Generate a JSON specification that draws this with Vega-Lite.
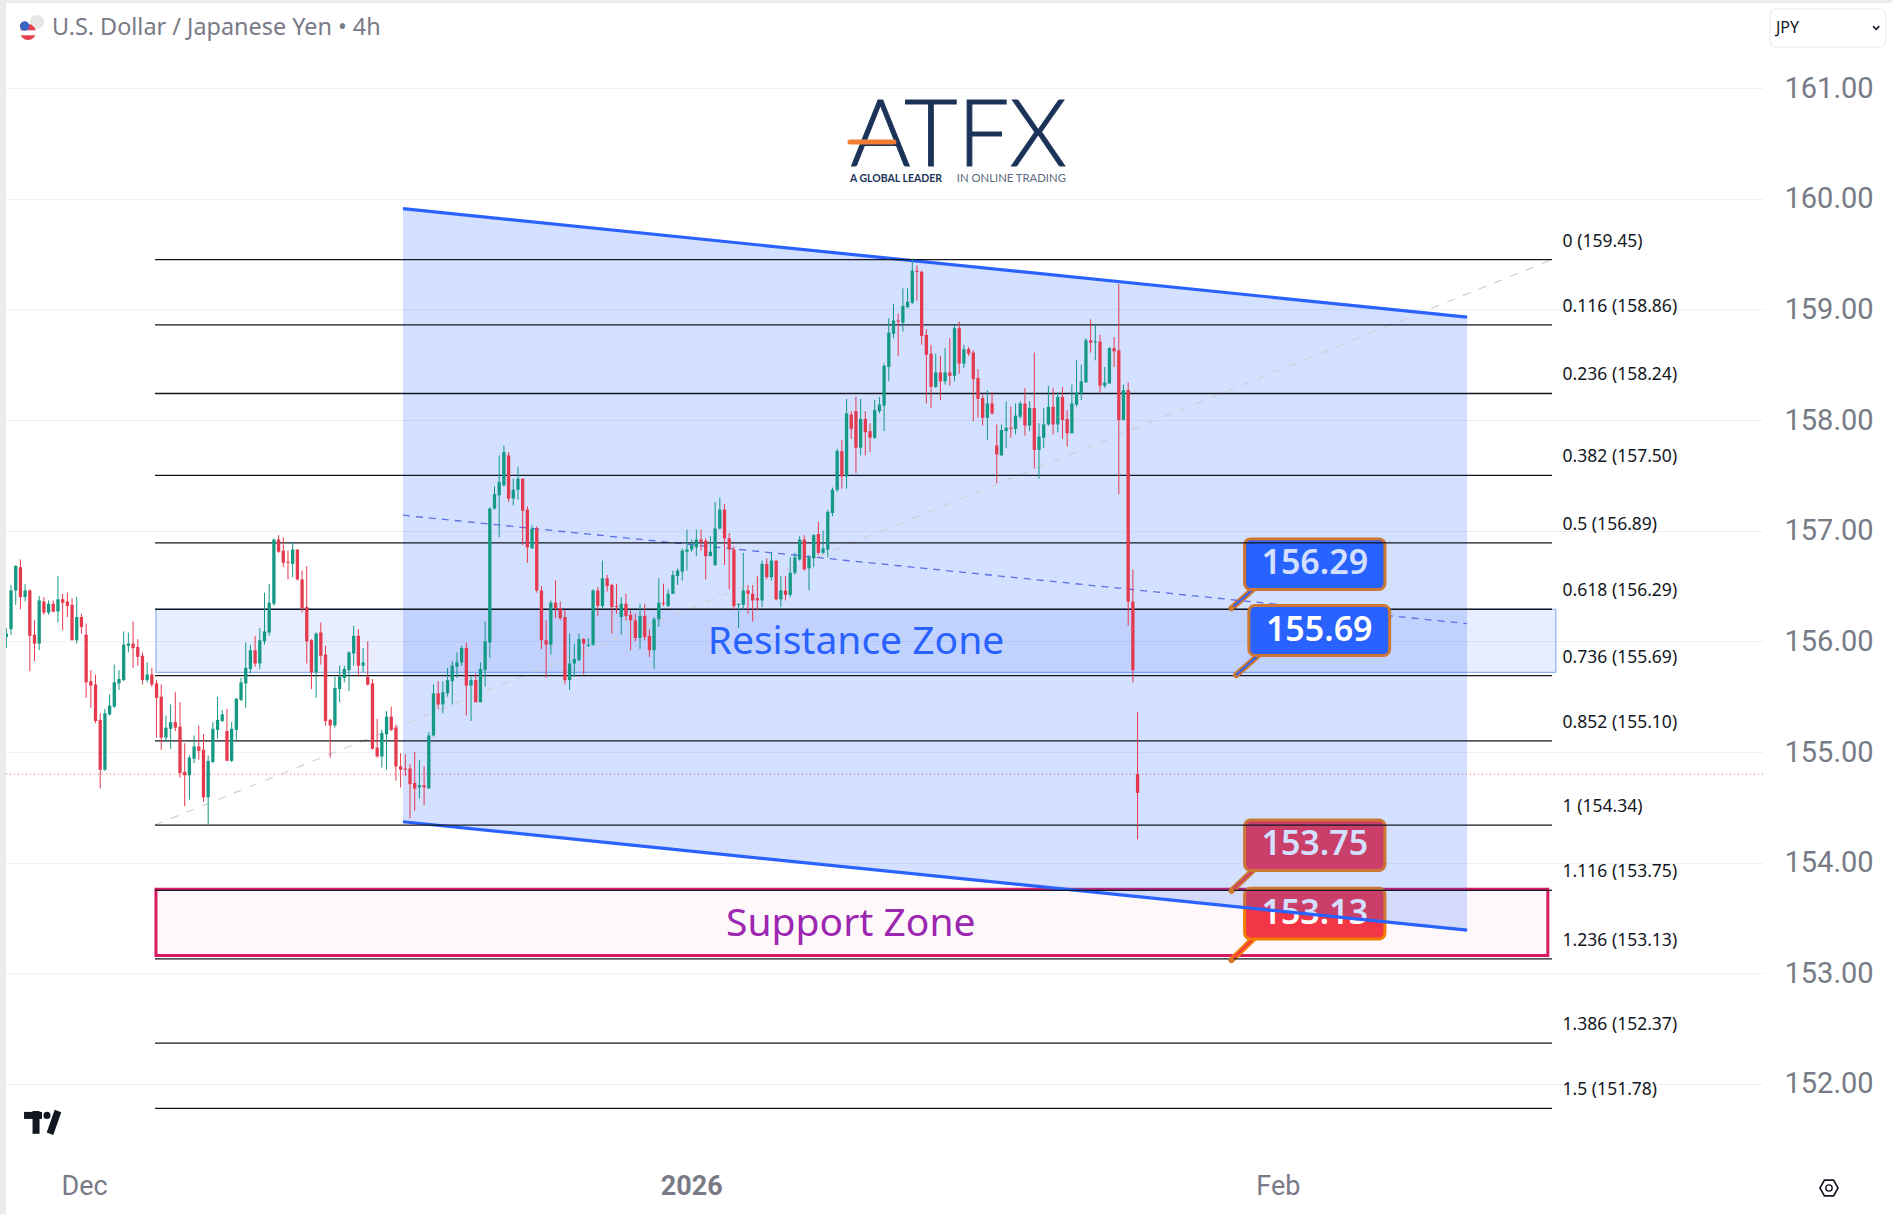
{
  "$schema": "https://vega.github.io/schema/vega-lite/v6.json",
  "description": "USD/JPY 4h candles with channel, fib levels and zones",
  "width": 1763,
  "height": 1160,
  "autosize": "none",
  "padding": {"left": 0, "top": 0, "right": 129, "bottom": 55},
  "background": "#ffffff",
  "config": {"view": {"stroke": null}, "axis": {"title": null}},
  "datasets": {
    "candles": [
      {"bar":0,"open":156.04,"high":156.12,"low":155.94,"close":156.07},
      {"bar":1,"open":156.11,"high":156.51,"low":156.06,"close":156.46},
      {"bar":2,"open":156.46,"high":156.69,"low":156.33,"close":156.68},
      {"bar":3,"open":156.67,"high":156.74,"low":156.29,"close":156.40},
      {"bar":4,"open":156.40,"high":156.52,"low":156.36,"close":156.46},
      {"bar":5,"open":156.46,"high":156.47,"low":155.73,"close":156.05},
      {"bar":6,"open":156.06,"high":156.19,"low":155.82,"close":155.98},
      {"bar":7,"open":155.98,"high":156.41,"low":155.92,"close":156.37},
      {"bar":8,"open":156.36,"high":156.40,"low":156.24,"close":156.26},
      {"bar":9,"open":156.26,"high":156.37,"low":156.24,"close":156.34},
      {"bar":10,"open":156.34,"high":156.37,"low":156.26,"close":156.27},
      {"bar":11,"open":156.27,"high":156.59,"low":156.17,"close":156.38},
      {"bar":12,"open":156.38,"high":156.43,"low":156.10,"close":156.35},
      {"bar":13,"open":156.36,"high":156.44,"low":156.22,"close":156.32},
      {"bar":14,"open":156.33,"high":156.39,"low":156.01,"close":156.01},
      {"bar":15,"open":156.01,"high":156.40,"low":155.98,"close":156.22},
      {"bar":16,"open":156.22,"high":156.25,"low":156.07,"close":156.13},
      {"bar":17,"open":156.06,"high":156.16,"low":155.49,"close":155.63},
      {"bar":18,"open":155.64,"high":155.74,"low":155.40,"close":155.60},
      {"bar":19,"open":155.61,"high":155.70,"low":155.26,"close":155.28},
      {"bar":20,"open":155.29,"high":155.35,"low":154.67,"close":154.84},
      {"bar":21,"open":154.84,"high":155.39,"low":154.83,"close":155.35},
      {"bar":22,"open":155.34,"high":155.52,"low":155.33,"close":155.42},
      {"bar":23,"open":155.41,"high":155.79,"low":155.40,"close":155.63},
      {"bar":24,"open":155.62,"high":155.74,"low":155.56,"close":155.66},
      {"bar":25,"open":155.65,"high":156.09,"low":155.64,"close":155.97},
      {"bar":26,"open":155.96,"high":156.08,"low":155.90,"close":155.98},
      {"bar":27,"open":155.98,"high":156.18,"low":155.76,"close":155.94},
      {"bar":28,"open":155.95,"high":156.02,"low":155.78,"close":155.86},
      {"bar":29,"open":155.87,"high":155.90,"low":155.61,"close":155.65},
      {"bar":30,"open":155.65,"high":155.81,"low":155.63,"close":155.70},
      {"bar":31,"open":155.70,"high":155.76,"low":155.59,"close":155.61},
      {"bar":32,"open":155.62,"high":155.65,"low":155.13,"close":155.49},
      {"bar":33,"open":155.50,"high":155.61,"low":155.02,"close":155.13},
      {"bar":34,"open":155.13,"high":155.33,"low":155.09,"close":155.22},
      {"bar":35,"open":155.21,"high":155.43,"low":155.03,"close":155.27},
      {"bar":36,"open":155.27,"high":155.54,"low":155.19,"close":155.22},
      {"bar":37,"open":155.23,"high":155.45,"low":154.77,"close":154.81},
      {"bar":38,"open":154.82,"high":155.08,"low":154.51,"close":154.79},
      {"bar":39,"open":154.79,"high":154.97,"low":154.57,"close":154.95},
      {"bar":40,"open":154.94,"high":155.15,"low":154.90,"close":155.05},
      {"bar":41,"open":155.05,"high":155.24,"low":154.93,"close":155.01},
      {"bar":42,"open":155.02,"high":155.16,"low":154.55,"close":154.59},
      {"bar":43,"open":154.59,"high":154.97,"low":154.35,"close":154.92},
      {"bar":44,"open":154.91,"high":155.27,"low":154.90,"close":155.21},
      {"bar":45,"open":155.20,"high":155.50,"low":155.12,"close":155.29},
      {"bar":46,"open":155.28,"high":155.38,"low":155.27,"close":155.34},
      {"bar":47,"open":155.19,"high":155.39,"low":154.92,"close":154.92},
      {"bar":48,"open":154.92,"high":155.27,"low":154.91,"close":155.21},
      {"bar":49,"open":155.20,"high":155.49,"low":155.11,"close":155.48},
      {"bar":50,"open":155.47,"high":155.67,"low":155.46,"close":155.63},
      {"bar":51,"open":155.62,"high":155.99,"low":155.40,"close":155.76},
      {"bar":52,"open":155.75,"high":155.97,"low":155.71,"close":155.92},
      {"bar":53,"open":155.92,"high":156.05,"low":155.77,"close":155.80},
      {"bar":54,"open":155.80,"high":156.12,"low":155.75,"close":156.01},
      {"bar":55,"open":156.00,"high":156.44,"low":155.97,"close":156.09},
      {"bar":56,"open":156.08,"high":156.52,"low":156.05,"close":156.35},
      {"bar":57,"open":156.34,"high":156.93,"low":156.32,"close":156.92},
      {"bar":58,"open":156.92,"high":156.96,"low":156.80,"close":156.81},
      {"bar":59,"open":156.82,"high":156.94,"low":156.67,"close":156.71},
      {"bar":60,"open":156.72,"high":156.82,"low":156.56,"close":156.71},
      {"bar":61,"open":156.70,"high":156.90,"low":156.58,"close":156.83},
      {"bar":62,"open":156.83,"high":156.83,"low":156.55,"close":156.56},
      {"bar":63,"open":156.56,"high":156.64,"low":156.26,"close":156.30},
      {"bar":64,"open":156.31,"high":156.68,"low":155.80,"close":156.00},
      {"bar":65,"open":156.01,"high":156.02,"low":155.57,"close":155.72},
      {"bar":66,"open":155.72,"high":156.08,"low":155.49,"close":156.07},
      {"bar":67,"open":156.08,"high":156.17,"low":155.79,"close":155.87},
      {"bar":68,"open":155.88,"high":155.96,"low":155.24,"close":155.28},
      {"bar":69,"open":155.29,"high":155.30,"low":154.95,"close":155.24},
      {"bar":70,"open":155.24,"high":155.68,"low":155.22,"close":155.58},
      {"bar":71,"open":155.57,"high":155.78,"low":155.45,"close":155.68},
      {"bar":72,"open":155.67,"high":155.78,"low":155.63,"close":155.75},
      {"bar":73,"open":155.74,"high":155.91,"low":155.55,"close":155.90},
      {"bar":74,"open":155.89,"high":156.14,"low":155.78,"close":156.05},
      {"bar":75,"open":156.05,"high":156.11,"low":155.68,"close":155.78},
      {"bar":76,"open":155.78,"high":155.94,"low":155.72,"close":155.81},
      {"bar":77,"open":155.68,"high":156.00,"low":155.60,"close":155.61},
      {"bar":78,"open":155.62,"high":155.66,"low":155.02,"close":155.03},
      {"bar":79,"open":155.04,"high":155.30,"low":154.95,"close":154.96},
      {"bar":80,"open":154.96,"high":155.20,"low":154.86,"close":155.17},
      {"bar":81,"open":155.16,"high":155.37,"low":154.84,"close":155.32},
      {"bar":82,"open":155.32,"high":155.41,"low":155.19,"close":155.20},
      {"bar":83,"open":155.22,"high":155.25,"low":154.74,"close":154.87},
      {"bar":84,"open":154.87,"high":154.99,"low":154.68,"close":154.84},
      {"bar":85,"open":154.85,"high":154.98,"low":154.78,"close":154.84},
      {"bar":86,"open":154.85,"high":154.89,"low":154.40,"close":154.71},
      {"bar":87,"open":154.72,"high":155.00,"low":154.47,"close":154.67},
      {"bar":88,"open":154.68,"high":154.93,"low":154.58,"close":154.70},
      {"bar":89,"open":154.70,"high":154.87,"low":154.52,"close":154.68},
      {"bar":90,"open":154.67,"high":155.18,"low":154.67,"close":155.15},
      {"bar":91,"open":155.15,"high":155.61,"low":155.14,"close":155.53},
      {"bar":92,"open":155.53,"high":155.64,"low":155.39,"close":155.43},
      {"bar":93,"open":155.43,"high":155.64,"low":155.35,"close":155.54},
      {"bar":94,"open":155.53,"high":155.76,"low":155.50,"close":155.65},
      {"bar":95,"open":155.64,"high":155.82,"low":155.43,"close":155.78},
      {"bar":96,"open":155.77,"high":155.90,"low":155.67,"close":155.81},
      {"bar":97,"open":155.81,"high":155.96,"low":155.78,"close":155.94},
      {"bar":98,"open":155.94,"high":155.99,"low":155.33,"close":155.60},
      {"bar":99,"open":155.60,"high":155.68,"low":155.28,"close":155.65},
      {"bar":100,"open":155.65,"high":155.71,"low":155.45,"close":155.45},
      {"bar":101,"open":155.45,"high":155.81,"low":155.45,"close":155.75},
      {"bar":102,"open":155.74,"high":156.18,"low":155.59,"close":156.00},
      {"bar":103,"open":155.99,"high":157.21,"low":155.85,"close":157.20},
      {"bar":104,"open":157.20,"high":157.40,"low":157.19,"close":157.33},
      {"bar":105,"open":157.32,"high":157.68,"low":156.94,"close":157.44},
      {"bar":106,"open":157.41,"high":157.77,"low":157.40,"close":157.71},
      {"bar":107,"open":157.68,"high":157.71,"low":157.26,"close":157.29},
      {"bar":108,"open":157.29,"high":157.47,"low":157.23,"close":157.37},
      {"bar":109,"open":157.37,"high":157.58,"low":157.28,"close":157.47},
      {"bar":110,"open":157.47,"high":157.47,"low":156.87,"close":157.18},
      {"bar":111,"open":157.19,"high":157.22,"low":156.71,"close":156.85},
      {"bar":112,"open":156.84,"high":157.05,"low":156.84,"close":157.02},
      {"bar":113,"open":157.02,"high":157.04,"low":156.44,"close":156.46},
      {"bar":114,"open":156.46,"high":156.50,"low":155.93,"close":156.01},
      {"bar":115,"open":156.01,"high":156.19,"low":155.67,"close":155.97},
      {"bar":116,"open":155.97,"high":156.37,"low":155.88,"close":156.35},
      {"bar":117,"open":156.35,"high":156.55,"low":156.21,"close":156.30},
      {"bar":118,"open":156.30,"high":156.36,"low":156.19,"close":156.21},
      {"bar":119,"open":156.22,"high":156.28,"low":155.61,"close":155.65},
      {"bar":120,"open":155.65,"high":156.07,"low":155.56,"close":155.80},
      {"bar":121,"open":155.80,"high":155.98,"low":155.68,"close":155.84},
      {"bar":122,"open":155.83,"high":156.07,"low":155.82,"close":156.02},
      {"bar":123,"open":156.02,"high":156.03,"low":155.70,"close":155.98},
      {"bar":124,"open":155.96,"high":156.03,"low":155.95,"close":155.97},
      {"bar":125,"open":155.97,"high":156.47,"low":155.96,"close":156.46},
      {"bar":126,"open":156.46,"high":156.49,"low":156.23,"close":156.32},
      {"bar":127,"open":156.32,"high":156.73,"low":156.29,"close":156.57},
      {"bar":128,"open":156.57,"high":156.60,"low":156.45,"close":156.50},
      {"bar":129,"open":156.51,"high":156.52,"low":156.07,"close":156.31},
      {"bar":130,"open":156.32,"high":156.52,"low":156.25,"close":156.31},
      {"bar":131,"open":156.22,"high":156.40,"low":156.06,"close":156.34},
      {"bar":132,"open":156.34,"high":156.43,"low":156.19,"close":156.23},
      {"bar":133,"open":156.24,"high":156.28,"low":155.92,"close":156.19},
      {"bar":134,"open":156.19,"high":156.25,"low":156.00,"close":156.03},
      {"bar":135,"open":156.03,"high":156.34,"low":155.93,"close":156.23},
      {"bar":136,"open":156.23,"high":156.34,"low":156.01,"close":156.04},
      {"bar":137,"open":156.05,"high":156.11,"low":155.86,"close":155.92},
      {"bar":138,"open":155.92,"high":156.22,"low":155.75,"close":156.20},
      {"bar":139,"open":156.20,"high":156.57,"low":156.13,"close":156.35},
      {"bar":140,"open":156.35,"high":156.52,"low":156.32,"close":156.34},
      {"bar":141,"open":156.32,"high":156.47,"low":156.31,"close":156.43},
      {"bar":142,"open":156.43,"high":156.64,"low":156.43,"close":156.60},
      {"bar":143,"open":156.59,"high":156.66,"low":156.51,"close":156.64},
      {"bar":144,"open":156.63,"high":156.84,"low":156.55,"close":156.82},
      {"bar":145,"open":156.81,"high":157.01,"low":156.64,"close":156.83},
      {"bar":146,"open":156.83,"high":156.92,"low":156.81,"close":156.87},
      {"bar":147,"open":156.85,"high":157.01,"low":156.77,"close":156.92},
      {"bar":148,"open":156.92,"high":157.01,"low":156.82,"close":156.90},
      {"bar":149,"open":156.91,"high":156.93,"low":156.56,"close":156.77},
      {"bar":150,"open":156.77,"high":156.95,"low":156.77,"close":156.81},
      {"bar":151,"open":156.69,"high":157.26,"low":156.68,"close":157.02},
      {"bar":152,"open":157.02,"high":157.30,"low":157.01,"close":157.19},
      {"bar":153,"open":157.19,"high":157.24,"low":156.69,"close":156.93},
      {"bar":154,"open":156.93,"high":156.98,"low":156.47,"close":156.83},
      {"bar":155,"open":156.83,"high":156.86,"low":156.28,"close":156.32},
      {"bar":156,"open":156.33,"high":156.34,"low":156.12,"close":156.34},
      {"bar":157,"open":156.33,"high":156.80,"low":156.29,"close":156.46},
      {"bar":158,"open":156.46,"high":156.51,"low":156.25,"close":156.43},
      {"bar":159,"open":156.43,"high":156.51,"low":156.18,"close":156.37},
      {"bar":160,"open":156.39,"high":156.59,"low":156.28,"close":156.37},
      {"bar":161,"open":156.37,"high":156.73,"low":156.31,"close":156.70},
      {"bar":162,"open":156.70,"high":156.75,"low":156.56,"close":156.58},
      {"bar":163,"open":156.58,"high":156.81,"low":156.55,"close":156.73},
      {"bar":164,"open":156.73,"high":156.73,"low":156.37,"close":156.38},
      {"bar":165,"open":156.38,"high":156.59,"low":156.31,"close":156.46},
      {"bar":166,"open":156.46,"high":156.59,"low":156.37,"close":156.42},
      {"bar":167,"open":156.42,"high":156.76,"low":156.40,"close":156.62},
      {"bar":168,"open":156.62,"high":156.80,"low":156.60,"close":156.76},
      {"bar":169,"open":156.74,"high":156.95,"low":156.73,"close":156.92},
      {"bar":170,"open":156.92,"high":156.96,"low":156.64,"close":156.65},
      {"bar":171,"open":156.66,"high":156.78,"low":156.46,"close":156.76},
      {"bar":172,"open":156.75,"high":156.97,"low":156.67,"close":156.96},
      {"bar":173,"open":156.97,"high":157.08,"low":156.78,"close":156.80},
      {"bar":174,"open":156.80,"high":157.00,"low":156.79,"close":156.84},
      {"bar":175,"open":156.83,"high":157.19,"low":156.76,"close":157.17},
      {"bar":176,"open":157.16,"high":157.39,"low":157.13,"close":157.37},
      {"bar":177,"open":157.37,"high":157.74,"low":157.35,"close":157.72},
      {"bar":178,"open":157.72,"high":157.82,"low":157.38,"close":157.49},
      {"bar":179,"open":157.49,"high":158.19,"low":157.38,"close":158.06},
      {"bar":180,"open":158.05,"high":158.08,"low":157.83,"close":157.92},
      {"bar":181,"open":158.08,"high":158.21,"low":157.52,"close":157.75},
      {"bar":182,"open":157.75,"high":158.19,"low":157.68,"close":158.01},
      {"bar":183,"open":158.01,"high":158.08,"low":157.68,"close":157.89},
      {"bar":184,"open":157.90,"high":157.97,"low":157.71,"close":157.84},
      {"bar":185,"open":157.84,"high":158.18,"low":157.83,"close":158.09},
      {"bar":186,"open":158.08,"high":158.21,"low":158.06,"close":158.14},
      {"bar":187,"open":158.13,"high":158.51,"low":157.90,"close":158.49},
      {"bar":188,"open":158.48,"high":158.92,"low":158.35,"close":158.79},
      {"bar":189,"open":158.78,"high":159.05,"low":158.74,"close":158.90},
      {"bar":190,"open":158.90,"high":158.96,"low":158.58,"close":158.89},
      {"bar":191,"open":158.88,"high":159.19,"low":158.80,"close":159.03},
      {"bar":192,"open":159.02,"high":159.19,"low":159.01,"close":159.07},
      {"bar":193,"open":159.06,"high":159.46,"low":159.05,"close":159.35},
      {"bar":194,"open":159.35,"high":159.40,"low":159.08,"close":159.34},
      {"bar":195,"open":159.34,"high":159.35,"low":158.68,"close":158.76},
      {"bar":196,"open":158.77,"high":158.82,"low":158.15,"close":158.59},
      {"bar":197,"open":158.60,"high":158.68,"low":158.11,"close":158.30},
      {"bar":198,"open":158.30,"high":158.60,"low":158.29,"close":158.43},
      {"bar":199,"open":158.43,"high":158.58,"low":158.18,"close":158.35},
      {"bar":200,"open":158.35,"high":158.65,"low":158.32,"close":158.43},
      {"bar":201,"open":158.43,"high":158.74,"low":158.31,"close":158.40},
      {"bar":202,"open":158.40,"high":158.86,"low":158.35,"close":158.83},
      {"bar":203,"open":158.83,"high":158.89,"low":158.42,"close":158.51},
      {"bar":204,"open":158.51,"high":158.68,"low":158.47,"close":158.64},
      {"bar":205,"open":158.64,"high":158.66,"low":158.58,"close":158.60},
      {"bar":206,"open":158.61,"high":158.63,"low":157.99,"close":158.37},
      {"bar":207,"open":158.38,"high":158.46,"low":158.02,"close":158.19},
      {"bar":208,"open":158.20,"high":158.23,"low":157.95,"close":158.02},
      {"bar":209,"open":158.02,"high":158.27,"low":157.82,"close":158.15},
      {"bar":210,"open":158.15,"high":158.25,"low":158.05,"close":158.06},
      {"bar":211,"open":157.77,"high":157.96,"low":157.43,"close":157.69},
      {"bar":212,"open":157.68,"high":157.96,"low":157.68,"close":157.91},
      {"bar":213,"open":157.90,"high":158.17,"low":157.75,"close":157.93},
      {"bar":214,"open":157.93,"high":158.12,"low":157.84,"close":157.92},
      {"bar":215,"open":157.92,"high":158.15,"low":157.87,"close":158.04},
      {"bar":216,"open":158.03,"high":158.17,"low":158.01,"close":158.15},
      {"bar":217,"open":158.15,"high":158.29,"low":157.86,"close":157.95},
      {"bar":218,"open":157.95,"high":158.17,"low":157.90,"close":158.11},
      {"bar":219,"open":158.11,"high":158.61,"low":157.56,"close":157.73},
      {"bar":220,"open":157.73,"high":157.97,"low":157.47,"close":157.85},
      {"bar":221,"open":157.84,"high":158.11,"low":157.75,"close":157.96},
      {"bar":222,"open":157.96,"high":158.31,"low":157.95,"close":158.12},
      {"bar":223,"open":158.12,"high":158.29,"low":157.87,"close":157.96},
      {"bar":224,"open":157.96,"high":158.25,"low":157.89,"close":158.21},
      {"bar":225,"open":158.21,"high":158.30,"low":157.83,"close":158.00},
      {"bar":226,"open":158.01,"high":158.09,"low":157.76,"close":157.88},
      {"bar":227,"open":157.88,"high":158.32,"low":157.88,"close":158.15},
      {"bar":228,"open":158.14,"high":158.54,"low":158.12,"close":158.25},
      {"bar":229,"open":158.24,"high":158.50,"low":158.18,"close":158.35},
      {"bar":230,"open":158.34,"high":158.74,"low":158.34,"close":158.72},
      {"bar":231,"open":158.72,"high":158.91,"low":158.61,"close":158.70},
      {"bar":232,"open":158.70,"high":158.86,"low":158.54,"close":158.71},
      {"bar":233,"open":158.71,"high":158.77,"low":158.25,"close":158.31},
      {"bar":234,"open":158.31,"high":158.48,"low":158.29,"close":158.34},
      {"bar":235,"open":158.33,"high":158.66,"low":158.33,"close":158.65},
      {"bar":236,"open":158.65,"high":158.75,"low":158.48,"close":158.62},
      {"bar":237,"open":158.63,"high":159.23,"low":157.33,"close":158.00},
      {"bar":238,"open":158.00,"high":158.32,"low":158.00,"close":158.27},
      {"bar":239,"open":158.27,"high":158.34,"low":156.14,"close":156.36},
      {"bar":240,"open":156.36,"high":156.65,"low":155.63,"close":155.74},
      {"bar":241,"open":154.80,"high":155.36,"low":154.21,"close":154.63}
    ],
    "fib": [
      {"start":31.67,"end":329.3,"price":159.45,"label":"0 (159.45)"},
      {"start":31.67,"end":329.3,"price":158.86,"label":"0.116 (158.86)"},
      {"start":31.67,"end":329.3,"price":158.24,"label":"0.236 (158.24)"},
      {"start":31.67,"end":329.3,"price":157.50,"label":"0.382 (157.50)"},
      {"start":31.67,"end":329.3,"price":156.89,"label":"0.5 (156.89)"},
      {"start":31.67,"end":329.3,"price":156.29,"label":"0.618 (156.29)"},
      {"start":31.67,"end":329.3,"price":155.69,"label":"0.736 (155.69)"},
      {"start":31.67,"end":329.3,"price":155.10,"label":"0.852 (155.10)"},
      {"start":31.67,"end":329.3,"price":154.34,"label":"1 (154.34)"},
      {"start":31.67,"end":329.3,"price":153.75,"label":"1.116 (153.75)"},
      {"start":31.67,"end":329.3,"price":153.13,"label":"1.236 (153.13)"},
      {"start":31.67,"end":329.3,"price":152.37,"label":"1.386 (152.37)"},
      {"start":31.67,"end":329.3,"price":151.78,"label":"1.5 (151.78)"}
    ],
    "channel": [
      {"line":"upper","bar":84.5,"price":159.91},
      {"line":"upper","bar":311.2,"price":158.93},
      {"line":"lower","bar":84.5,"price":154.37},
      {"line":"lower","bar":311.2,"price":153.39}
    ],
    "callouts": [
      {"label":"156.29","tone":"up","left":263.8,"right":293.7,"top":156.926,"bottom":156.468,"mid":278.75,"center":156.697},
      {"label":"153.75","tone":"down","left":263.8,"right":293.7,"top":154.386,"bottom":153.929,"mid":278.75,"center":154.158},
      {"label":"153.13","tone":"down","left":263.8,"right":293.7,"top":153.769,"bottom":153.311,"mid":278.75,"center":153.54}
    ],
    "pointers": [
      {"label":"156.29","tone":"up","bar":261.0,"price":156.30},
      {"label":"156.29","tone":"up","bar":265.6,"price":156.47},
      {"label":"153.75","tone":"down","bar":261.0,"price":153.746},
      {"label":"153.75","tone":"down","bar":265.6,"price":153.93},
      {"label":"153.13","tone":"down","bar":261.0,"price":153.12},
      {"label":"153.13","tone":"down","bar":265.6,"price":153.31}
    ],
    "tips": [
      {"bar":261.0,"price":156.30},
      {"bar":262.0,"price":155.696},
      {"bar":261.0,"price":153.746},
      {"bar":261.0,"price":153.12}
    ]
  },
  "layer": [
    {
      "data": {"values": [{"start": -0.08, "end": 374.24, "price": 154.8}]},
      "mark": {"type": "rule", "color": "#f23645", "strokeWidth": 1, "strokeDash": [1, 3], "opacity": 0.85},
      "encoding": {
        "x": {
          "field": "start", "type": "quantitative",
          "scale": {"domain": [-1.349, 374.24], "nice": false, "zero": false, "padding": 0},
          "axis": {
            "values": [16.55, 145.9, 270.9], "grid": false, "ticks": false, "domain": false,
            "labelExpr": "datum.value < 50 ? 'Dec' : datum.value < 200 ? '2026' : 'Feb'",
            "labelFont": "Roboto", "labelFontSize": 27, "labelColor": "#787b86", "labelPadding": 13,
            "labelFontWeight": {"condition": {"test": "datum.value > 50 && datum.value < 200", "value": "bold"}, "value": "normal"},
            "labelFlush": false, "labelOverlap": false
          }
        },
        "x2": {"field": "end"},
        "y": {
          "field": "price", "type": "quantitative",
          "scale": {"domain": [151.313, 161.796], "nice": false, "zero": false},
          "axis": {
            "orient": "right", "values": [152, 153, 154, 155, 156, 157, 158, 159, 160, 161], "format": ".2f",
            "grid": true, "gridColor": "#eef0f3", "gridWidth": 1.2, "ticks": false, "domain": false,
            "labelFont": "Roboto", "labelFontSize": 29, "labelColor": "#787b86", "labelPadding": 21
          }
        }
      }
    },
    {
      "data": {"values": [{"left": 31.88, "right": 328.4, "top": 153.76, "bottom": 153.16}]},
      "mark": {"type": "rect", "fill": "#fef8fa", "stroke": "#d81b60", "strokeWidth": 3},
      "encoding": {
        "x": {"field": "left", "type": "quantitative"}, "x2": {"field": "right"},
        "y": {"field": "top", "type": "quantitative"}, "y2": {"field": "bottom"}
      }
    },
    {
      "data": {"values": [{"left": 31.88, "right": 330.1, "top": 156.29, "bottom": 155.72}]},
      "mark": {"type": "rect", "fill": "#2962ff", "fillOpacity": 0.11, "stroke": "#8db4ee", "strokeWidth": 1.2},
      "encoding": {
        "x": {"field": "left", "type": "quantitative"}, "x2": {"field": "right"},
        "y": {"field": "top", "type": "quantitative"}, "y2": {"field": "bottom"}
      }
    },
    {
      "data": {"name": "pointers"},
      "mark": {"type": "line", "stroke": "#f57c00", "strokeWidth": 6, "strokeCap": "round"},
      "encoding": {
        "x": {"field": "bar", "type": "quantitative"},
        "y": {"field": "price", "type": "quantitative"},
        "detail": {"field": "label"}
      }
    },
    {
      "data": {"name": "pointers"},
      "mark": {"type": "line", "strokeWidth": 2},
      "encoding": {
        "x": {"field": "bar", "type": "quantitative"},
        "y": {"field": "price", "type": "quantitative"},
        "detail": {"field": "label"},
        "stroke": {"field": "tone", "type": "nominal", "scale": {"domain": ["up", "down"], "range": ["#2962ff", "#f23645"]}, "legend": null}
      }
    },
    {
      "data": {"name": "callouts"},
      "mark": {"type": "rect", "stroke": "#f57c00", "strokeWidth": 3, "cornerRadius": 6},
      "encoding": {
        "x": {"field": "left", "type": "quantitative"}, "x2": {"field": "right"},
        "y": {"field": "top", "type": "quantitative"}, "y2": {"field": "bottom"},
        "fill": {"field": "tone", "type": "nominal", "scale": {"domain": ["up", "down"], "range": ["#2962ff", "#f23645"]}, "legend": null}
      }
    },
    {
      "data": {"name": "callouts"},
      "mark": {"type": "text", "font": "Noto Sans", "fontSize": 34, "fontWeight": 600, "color": "#ffffff", "align": "center", "baseline": "middle"},
      "encoding": {
        "x": {"field": "mid", "type": "quantitative"},
        "y": {"field": "center", "type": "quantitative"},
        "text": {"field": "label"}
      }
    },
    {
      "data": {"values": [
        {"bar": 84.5, "upper": 159.91, "lower": 154.37},
        {"bar": 311.2, "upper": 158.93, "lower": 153.39}
      ]},
      "mark": {"type": "area", "color": "#2962ff", "opacity": 0.2},
      "encoding": {
        "x": {"field": "bar", "type": "quantitative"},
        "y": {"field": "upper", "type": "quantitative"},
        "y2": {"field": "lower"}
      }
    },
    {
      "data": {"values": [{"bar": 31.67, "price": 154.34}, {"bar": 329.3, "price": 159.45}]},
      "mark": {"type": "line", "stroke": "#cfcfd4", "strokeWidth": 1.2, "strokeDash": [8, 9]},
      "encoding": {
        "x": {"field": "bar", "type": "quantitative"},
        "y": {"field": "price", "type": "quantitative"}
      }
    },
    {
      "data": {"values": [{"bar": 84.5, "price": 157.14}, {"bar": 311.2, "price": 156.16}]},
      "mark": {"type": "line", "stroke": "#5a6fe6", "strokeWidth": 1.3, "strokeDash": [7, 6]},
      "encoding": {
        "x": {"field": "bar", "type": "quantitative"},
        "y": {"field": "price", "type": "quantitative"}
      }
    },
    {
      "data": {"name": "channel"},
      "mark": {"type": "line", "stroke": "#2962ff", "strokeWidth": 3.2},
      "encoding": {
        "x": {"field": "bar", "type": "quantitative"},
        "y": {"field": "price", "type": "quantitative"},
        "detail": {"field": "line"}
      }
    },
    {
      "data": {"name": "fib"},
      "mark": {"type": "rule", "color": "#131722", "strokeWidth": 1.3},
      "encoding": {
        "x": {"field": "start", "type": "quantitative"}, "x2": {"field": "end"},
        "y": {"field": "price", "type": "quantitative"}
      }
    },
    {
      "data": {"name": "fib"},
      "mark": {"type": "text", "font": "Noto Sans", "fontSize": 17.5, "color": "#131722", "align": "left", "baseline": "middle", "dy": -18},
      "encoding": {
        "x": {"datum": 331.55, "type": "quantitative"},
        "y": {"field": "price", "type": "quantitative"},
        "text": {"field": "label"}
      }
    },
    {
      "data": {"name": "tips"},
      "mark": {"type": "point", "filled": true, "color": "#cc7733", "size": 32, "opacity": 1},
      "encoding": {"x": {"field": "bar", "type": "quantitative"}, "y": {"field": "price", "type": "quantitative"}}
    },
    {
      "data": {"name": "candles"},
      "mark": {"type": "rule", "strokeWidth": 1},
      "encoding": {
        "x": {"field": "bar", "type": "quantitative"},
        "y": {"field": "low", "type": "quantitative"},
        "y2": {"field": "high"},
        "color": {"condition": {"test": "datum.close >= datum.open", "value": "#149985"}, "value": "#e5394e"}
      }
    },
    {
      "data": {"name": "candles"},
      "mark": {"type": "bar", "size": 3.3, "orient": "vertical"},
      "encoding": {
        "x": {"field": "bar", "type": "quantitative"},
        "y": {"field": "open", "type": "quantitative"},
        "y2": {"field": "close"},
        "color": {"condition": {"test": "datum.close >= datum.open", "value": "#149985"}, "value": "#e5394e"}
      }
    },
    {
      "data": {"values": [{"bar": 262.0, "price": 155.696}, {"bar": 266.6, "price": 155.87}]},
      "mark": {"type": "line", "stroke": "#cc7733", "strokeWidth": 6, "strokeCap": "round"},
      "encoding": {
        "x": {"field": "bar", "type": "quantitative"},
        "y": {"field": "price", "type": "quantitative"}
      }
    },
    {
      "data": {"values": [{"bar": 262.0, "price": 155.696}, {"bar": 266.6, "price": 155.87}]},
      "mark": {"type": "line", "stroke": "#2962ff", "strokeWidth": 2},
      "encoding": {
        "x": {"field": "bar", "type": "quantitative"},
        "y": {"field": "price", "type": "quantitative"}
      }
    },
    {
      "data": {"values": [{"label": "155.69", "left": 264.7, "right": 294.7, "top": 156.324, "bottom": 155.872, "mid": 279.7, "center": 156.098}]},
      "layer": [
        {
          "mark": {"type": "rect", "fill": "#2962ff", "stroke": "#cc7733", "strokeWidth": 3, "cornerRadius": 6},
          "encoding": {
            "x": {"field": "left", "type": "quantitative"}, "x2": {"field": "right"},
            "y": {"field": "top", "type": "quantitative"}, "y2": {"field": "bottom"}
          }
        },
        {
          "mark": {"type": "text", "font": "Noto Sans", "fontSize": 34, "fontWeight": 600, "color": "#ffffff", "align": "center", "baseline": "middle"},
          "encoding": {
            "x": {"field": "mid", "type": "quantitative"},
            "y": {"field": "center", "type": "quantitative"},
            "text": {"field": "label"}
          }
        }
      ]
    },
    {
      "data": {"values": [{"zone": "Resistance Zone", "bar": 181.0, "price": 155.99}]},
      "mark": {"type": "text", "font": "Noto Sans", "fontSize": 39, "color": "#2962ff", "align": "center", "baseline": "middle"},
      "encoding": {
        "x": {"field": "bar", "type": "quantitative"},
        "y": {"field": "price", "type": "quantitative"},
        "text": {"field": "zone"}
      }
    },
    {
      "data": {"values": [{"zone": "Support Zone", "bar": 179.9, "price": 153.45}]},
      "mark": {"type": "text", "font": "Noto Sans", "fontSize": 39, "color": "#9c27b0", "align": "center", "baseline": "middle"},
      "encoding": {
        "x": {"field": "bar", "type": "quantitative"},
        "y": {"field": "price", "type": "quantitative"},
        "text": {"field": "zone"}
      }
    },
    {
      "data": {"values": [{"text": "ATFX", "bar": 202.85, "price": 160.296}]},
      "mark": {"type": "text", "font": "Lato", "fontSize": 92, "fontWeight": 300, "color": "#1b3358", "align": "center", "baseline": "alphabetic", "stroke": "#1b3358", "strokeWidth": 1},
      "encoding": {
        "x": {"field": "bar", "type": "quantitative"},
        "y": {"field": "price", "type": "quantitative"},
        "text": {"field": "text"}
      }
    },
    {
      "data": {"values": [{"left": 179.73, "right": 189.1, "price": 160.513}]},
      "mark": {"type": "rule", "color": "#ef7c31", "strokeWidth": 5, "strokeCap": "round"},
      "encoding": {
        "x": {"field": "left", "type": "quantitative"}, "x2": {"field": "right"},
        "y": {"field": "price", "type": "quantitative"}
      }
    },
    {
      "data": {"values": [{"text": "A GLOBAL LEADER", "bar": 179.73, "price": 160.151}]},
      "mark": {"type": "text", "font": "Lato", "fontSize": 10.5, "fontWeight": "bold", "color": "#1b3358", "align": "left", "baseline": "alphabetic"},
      "encoding": {
        "x": {"field": "bar", "type": "quantitative"},
        "y": {"field": "price", "type": "quantitative"},
        "text": {"field": "text"}
      }
    },
    {
      "data": {"values": [{"text": "IN ONLINE TRADING", "bar": 202.5, "price": 160.151}]},
      "mark": {"type": "text", "font": "Lato", "fontSize": 11.3, "color": "#5a6a80", "align": "left", "baseline": "alphabetic"},
      "encoding": {
        "x": {"field": "bar", "type": "quantitative"},
        "y": {"field": "price", "type": "quantitative"},
        "text": {"field": "text"}
      }
    },
    {
      "data": {"values": [{"text": "U.S. Dollar / Japanese Yen • 4h", "bar": 9.73, "price": 161.54}]},
      "mark": {"type": "text", "font": "Noto Sans", "fontSize": 23.4, "color": "#787b86", "align": "left", "baseline": "middle"},
      "encoding": {
        "x": {"field": "bar", "type": "quantitative"},
        "y": {"field": "price", "type": "quantitative"},
        "text": {"field": "text"}
      }
    },
    {
      "data": {"values": [{"bar": 6.53, "price": 161.597}]},
      "mark": {"type": "point", "filled": true, "color": "#e6e6e6", "size": 200, "opacity": 1},
      "encoding": {"x": {"field": "bar", "type": "quantitative"}, "y": {"field": "price", "type": "quantitative"}}
    },
    {
      "data": {"values": [{"bar": 4.62, "price": 161.506}]},
      "mark": {"type": "point", "filled": true, "color": "#e8404f", "size": 254, "opacity": 1},
      "encoding": {"x": {"field": "bar", "type": "quantitative"}, "y": {"field": "price", "type": "quantitative"}}
    },
    {
      "data": {"values": [{"left": 2.9, "right": 6.3, "price": 161.5}]},
      "mark": {"type": "rule", "color": "#ffffff", "strokeWidth": 5},
      "encoding": {
        "x": {"field": "left", "type": "quantitative"}, "x2": {"field": "right"},
        "y": {"field": "price", "type": "quantitative"}
      }
    },
    {
      "data": {"values": [{"bar": 3.9, "price": 161.56}]},
      "mark": {"type": "point", "filled": true, "color": "#3b63c4", "size": 90, "opacity": 1},
      "encoding": {"x": {"field": "bar", "type": "quantitative"}, "y": {"field": "price", "type": "quantitative"}}
    },
    {
      "data": {"values": [{"left": 375.7, "right": 400.4, "top": 161.715, "bottom": 161.37}]},
      "mark": {"type": "rect", "fill": "#ffffff", "stroke": "#eeeeee", "strokeWidth": 1.2, "cornerRadius": 6},
      "encoding": {
        "x": {"field": "left", "type": "quantitative"}, "x2": {"field": "right"},
        "y": {"field": "top", "type": "quantitative"}, "y2": {"field": "bottom"}
      }
    },
    {
      "data": {"values": [{"text": "JPY", "bar": 377, "price": 161.54}]},
      "mark": {"type": "text", "font": "Noto Sans", "fontSize": 16, "color": "#131722", "align": "left", "baseline": "middle"},
      "encoding": {
        "x": {"field": "bar", "type": "quantitative"},
        "y": {"field": "price", "type": "quantitative"},
        "text": {"field": "text"}
      }
    },
    {
      "data": {"values": [{"bar": 397.7, "price": 161.56}, {"bar": 398.35, "price": 161.53}, {"bar": 399.0, "price": 161.56}]},
      "mark": {"type": "line", "stroke": "#131722", "strokeWidth": 1.6},
      "encoding": {"x": {"field": "bar", "type": "quantitative"}, "y": {"field": "price", "type": "quantitative"}}
    },
    {
      "data": {"values": [
        {"part": "bar", "bar": 3.77, "price": 151.716},
        {"part": "bar", "bar": 7.6, "price": 151.716},
        {"part": "stem", "bar": 6.33, "price": 151.756},
        {"part": "stem", "bar": 6.33, "price": 151.55},
        {"part": "slant", "bar": 11.0, "price": 151.756},
        {"part": "slant", "bar": 9.3, "price": 151.55}
      ]},
      "mark": {"type": "line", "stroke": "#131722", "strokeWidth": 7},
      "encoding": {
        "x": {"field": "bar", "type": "quantitative"},
        "y": {"field": "price", "type": "quantitative"},
        "detail": {"field": "part"}
      }
    },
    {
      "data": {"values": [{"bar": 8.66, "price": 151.716}]},
      "mark": {"type": "point", "filled": true, "color": "#131722", "size": 50, "opacity": 1},
      "encoding": {"x": {"field": "bar", "type": "quantitative"}, "y": {"field": "price", "type": "quantitative"}}
    },
    {
      "data": {"values": [{"bar": 388.3, "price": 151.06}]},
      "mark": {"type": "point", "shape": "M-1,0L-0.5,-0.87L0.5,-0.87L1,0L0.5,0.87L-0.5,0.87Z", "filled": false, "stroke": "#131722", "strokeWidth": 1.6, "size": 330, "opacity": 1},
      "encoding": {"x": {"field": "bar", "type": "quantitative"}, "y": {"field": "price", "type": "quantitative"}}
    },
    {
      "data": {"values": [{"bar": 388.3, "price": 151.06}]},
      "mark": {"type": "point", "filled": false, "stroke": "#131722", "strokeWidth": 1.4, "size": 40, "opacity": 1},
      "encoding": {"x": {"field": "bar", "type": "quantitative"}, "y": {"field": "price", "type": "quantitative"}}
    },
    {
      "data": {"values": [{"left": -1.349, "right": -0.07, "top": 161.8, "bottom": 150.82}]},
      "mark": {"type": "rect", "fill": "#ebebeb"},
      "encoding": {
        "x": {"field": "left", "type": "quantitative"}, "x2": {"field": "right"},
        "y": {"field": "top", "type": "quantitative"}, "y2": {"field": "bottom"}
      }
    },
    {
      "data": {"values": [{"left": -1.349, "right": 401.7, "top": 161.796, "bottom": 161.769}]},
      "mark": {"type": "rect", "fill": "#ebebeb"},
      "encoding": {
        "x": {"field": "left", "type": "quantitative"}, "x2": {"field": "right"},
        "y": {"field": "top", "type": "quantitative"}, "y2": {"field": "bottom"}
      }
    }
  ]
}
